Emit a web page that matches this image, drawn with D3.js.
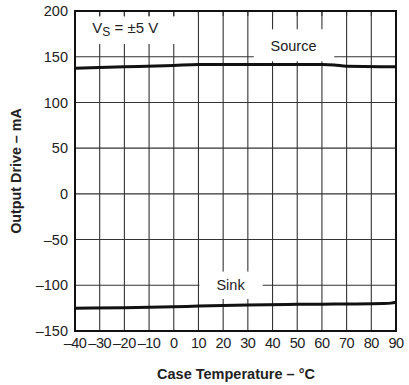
<!DOCTYPE html>
<html><head><meta charset="utf-8">
<script src="https://cdn.jsdelivr.net/npm/d3@7"></script>
<style>body{margin:0;background:#fff}svg{display:block;font-family:"Liberation Sans",Arial,sans-serif}</style>
</head><body>
<svg id="c" width="409" height="385"></svg>
<script>
const xTicks = [-40,-30,-20,-10,0,10,20,30,40,50,60,70,80,90];
const yTicks = [-150,-100,-50,0,50,100,150,200];
const sourceT = [-40,-20,0,10,30,50,60,65,70,90];
const sourceV = [137.5,139,140.5,141.5,141.5,141.5,141.5,141,139.5,139];
const sinkT = [-40,-20,0,10,30,50,70,85,88,90];
const sinkV = [-125,-124.5,-123.5,-122.7,-121.5,-120.8,-120.5,-120,-119.5,-118.5];

const svg = d3.select("#c");
const L=75,T=11,W=321,H=320;
const x = d3.scaleLinear().domain([-40,90]).range([L,L+W]);
const y = d3.scaleLinear().domain([-150,200]).range([T+H,T]);
const fmt = v => v<0 ? "\u2013"+Math.abs(v) : String(v);

// grid
const g = svg.append("g");
g.selectAll(".vx").data(xTicks).join("line")
  .attr("x1",d=>x(d)).attr("x2",d=>x(d)).attr("y1",T).attr("y2",T+H)
  .attr("stroke","#333").attr("stroke-width",1.1);
g.selectAll(".hy").data(yTicks).join("line")
  .attr("x1",L).attr("x2",L+W).attr("y1",d=>y(d)).attr("y2",d=>y(d))
  .attr("stroke","#333").attr("stroke-width",1.1);

// label boxes (white) covering grid
const boxes = [
  {x0:-40, x1:5, y0:194, y1:164},
  {x0:32, x1:65, y0:180, y1:145},
  {x0:10, x1:36, y0:-85, y1:-115}
];
svg.selectAll(".box").data(boxes).join("rect")
  .attr("x",d=>x(d.x0)+1).attr("y",d=>y(d.y0))
  .attr("width",d=>x(d.x1)-x(d.x0)-1).attr("height",d=>y(d.y1)-y(d.y0))
  .attr("fill","#fff");

// inner top ticks
svg.selectAll(".tt").data(xTicks).join("line")
  .attr("x1",d=>x(d)).attr("x2",d=>x(d)).attr("y1",T).attr("y2",T+5)
  .attr("stroke","#333").attr("stroke-width",1.1);

// frame
svg.append("rect").attr("x",L).attr("y",T).attr("width",W).attr("height",H)
  .attr("fill","none").attr("stroke","#111").attr("stroke-width",2);

// curves
const line = d3.line().x(d=>x(d[0])).y(d=>y(d[1])).curve(d3.curveMonotoneX);
svg.append("path").datum(sourceT.map((t,i)=>[t,sourceV[i]])).attr("d",line)
  .attr("fill","none").attr("stroke","#111").attr("stroke-width",3);
svg.append("path").datum(sinkT.map((t,i)=>[t,sinkV[i]])).attr("d",line)
  .attr("fill","none").attr("stroke","#111").attr("stroke-width",3);

// tick labels
svg.selectAll(".yl").data(yTicks).join("text")
  .attr("x",L-7).attr("y",d=>y(d)).attr("dy","0.35em").attr("text-anchor","end")
  .attr("font-size",14.5).attr("fill","#222").text(fmt);
svg.selectAll(".xl").data(xTicks).join("text")
  .attr("x",d=>x(d)).attr("y",T+H+17).attr("text-anchor","middle")
  .attr("font-size",14.5).attr("fill","#222").attr("letter-spacing","-0.5").text(fmt);

// titles
svg.append("text").attr("x",236).attr("y",379).attr("text-anchor","middle")
  .attr("font-size",14.5).attr("font-weight","bold").attr("fill","#222").text("Case Temperature \u2013 \u00b0C");
svg.append("text").attr("transform",`translate(21,${T+H/2}) rotate(-90)`).attr("text-anchor","middle")
  .attr("font-size",14.3).attr("font-weight","bold").attr("fill","#222").text("Output Drive \u2013 mA");

// annotations
const vs = svg.append("text").attr("x",x(-33)).attr("y",y(175.5)).attr("font-size",15).attr("fill","#222");
vs.append("tspan").text("V");
vs.append("tspan").attr("font-size",12).attr("dy",3).text("S");
vs.append("tspan").attr("dy",-3).text(" = \u00b15 V");
svg.append("text").attr("x",x(48.5)).attr("y",y(162)).attr("dy","0.35em").attr("text-anchor","middle")
  .attr("font-size",14.5).attr("fill","#222").text("Source");
svg.append("text").attr("x",x(23)).attr("y",y(-100)).attr("dy","0.35em").attr("text-anchor","middle")
  .attr("font-size",14.5).attr("fill","#222").text("Sink");
</script>
</body></html>
